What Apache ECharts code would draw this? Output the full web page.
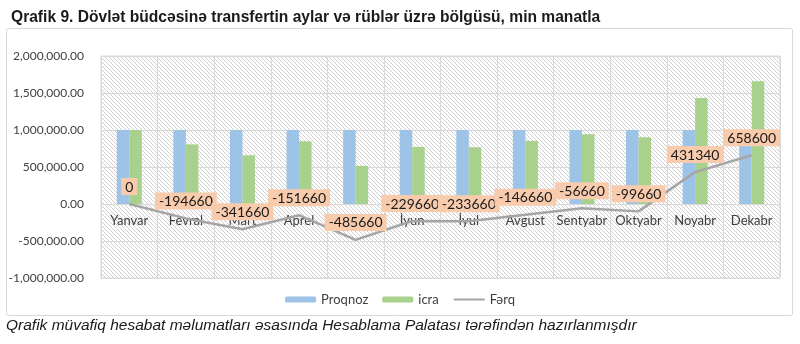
<!DOCTYPE html>
<html>
<head>
<meta charset="utf-8">
<script src="https://cdn.jsdelivr.net/npm/echarts@6/dist/echarts.min.js"></script>
<style>html,body{margin:0;padding:0;background:#fff;}#c{width:800px;height:344px;}</style>
</head>
<body>
<div id="c"></div>
<script>
var categories = ['Yanvar','Fevral','Mart','Aprel','May','İyun','İyul','Avgust','Sentyabr','Oktyabr','Noyabr','Dekabr'];
var proqnoz = [1000000,1000000,1000000,1000000,1000000,1000000,1000000,1000000,1000000,1000000,1000000,1000000];
var icra = [1000000,805340,658340,848340,514340,770340,766340,853340,943340,900340,1431340,1658600];
var ferq = [0,-194660,-341660,-151660,-485660,-229660,-233660,-146660,-56660,-99660,431340,658600];
var yTicks = [-1000000,-500000,0,500000,1000000,1500000,2000000];

var pc = document.createElement('canvas');
pc.width = 4; pc.height = 4;
var ctx = pc.getContext('2d');
ctx.fillStyle = '#ffffff'; ctx.fillRect(0,0,4,4);
ctx.strokeStyle = '#cfcfcf'; ctx.lineWidth = 1;
ctx.beginPath();
ctx.moveTo(-1,-1); ctx.lineTo(5,5);
ctx.moveTo(-1,3); ctx.lineTo(1,5);
ctx.moveTo(3,-1); ctx.lineTo(5,1);
ctx.stroke();

var font = 'Lato';
var gridTop = 56, gridBottom = 66, H = 344;
var plotH = H - gridTop - gridBottom;
var zeroOffset = -plotH * (0 - yTicks[0]) / (yTicks[yTicks.length-1] - yTicks[0]);

var chart = echarts.init(document.getElementById('c'), null, {renderer:'canvas'});
chart.setOption({
  animation: false,
  backgroundColor: '#ffffff',
  title: {
    text: 'Qrafik 9. Dövlət büdcəsinə transfertin aylar və rüblər üzrə bölgüsü, min manatla',
    left: 6, top: 5,
    textStyle: {fontFamily: 'Liberation Sans', fontWeight: 'bold', fontSize: 15.6, color: '#1a1a1a'}
  },
  graphic: [
    {type:'rect', shape:{x:6.5,y:28.5,width:786,height:287,r:2}, style:{fill:'none', stroke:'#d9d9d9', lineWidth:1}, z:-1},
    {type:'text', left: 6, top: 318, style:{text:'Qrafik müvafiq hesabat məlumatları əsasında Hesablama Palatası tərəfindən hazırlanmışdır', font:'italic 15.5px "Liberation Sans"', fill:'#1a1a1a'}}
  ],
  legend: {
    data: ['Proqnoz','icra',{name:'Fərq', itemStyle:{color:'rgba(0,0,0,0)', borderWidth:0}}],
    top: 288, left: 'center',
    itemWidth: 31, itemHeight: 6, itemGap: 14,
    textStyle: {fontFamily: font, fontSize: 13, color: '#404040'}
  },
  grid: {
    left: 101, right: 20, top: gridTop, bottom: gridBottom,
    show: true, backgroundColor: {image: pc, repeat: 'repeat'}, borderColor: '#d9d9d9', borderWidth: 1
  },
  xAxis: {
    type: 'category', data: categories,
    offset: zeroOffset,
    axisLine: {show: true, onZero: false, lineStyle: {color: '#d9d9d9'}},
    axisTick: {show: false},
    splitLine: {show: true, interval: 0, lineStyle: {color: '#d9d9d9'}},
    axisLabel: {interval: 0, margin: 10, fontFamily: font, fontSize: 13, color: '#404040'}
  },
  yAxis: {
    type: 'value', min: yTicks[0], max: yTicks[yTicks.length-1], interval: 500000,
    axisLine: {show: false}, axisTick: {show: false},
    splitLine: {lineStyle: {color: '#d9d9d9'}},
    axisLabel: {margin: 17, fontFamily: font, fontSize: 12, color: '#404040',
      formatter: function(v){ return v.toLocaleString('en-US',{minimumFractionDigits:2, maximumFractionDigits:2}); }}
  },
  series: [
    {name:'Proqnoz', type:'bar', data: proqnoz, barWidth: 12.5, barGap: '0%', itemStyle:{color:'#9dc3e6'}},
    {name:'icra', type:'bar', data: icra, barWidth: 12.5, barGap: '0%', itemStyle:{color:'#a9d18e'}},
    {name:'Fərq', type:'line', data: ferq, symbol: 'none', z: 5,
      lineStyle: {color:'#a5a5a5', width: 2.5}, itemStyle:{color:'#a5a5a5'}},
    {name:'FərqLabels', type:'line', data: ferq, symbol: 'circle', symbolSize: 0.01, showSymbol: true, z: 6,
      lineStyle: {opacity: 0, width: 0}, itemStyle:{color:'rgba(0,0,0,0)'}, silent: true,
      labelLayout: {hideOverlap: false},
      label: {show: true, position: 'top', distance: 9, fontFamily: font, fontSize: 14, color: '#1a1a1a',
        backgroundColor: '#f8cbad', padding: [2,4,1,4]}}
  ]
});
</script>
</body>
</html>
